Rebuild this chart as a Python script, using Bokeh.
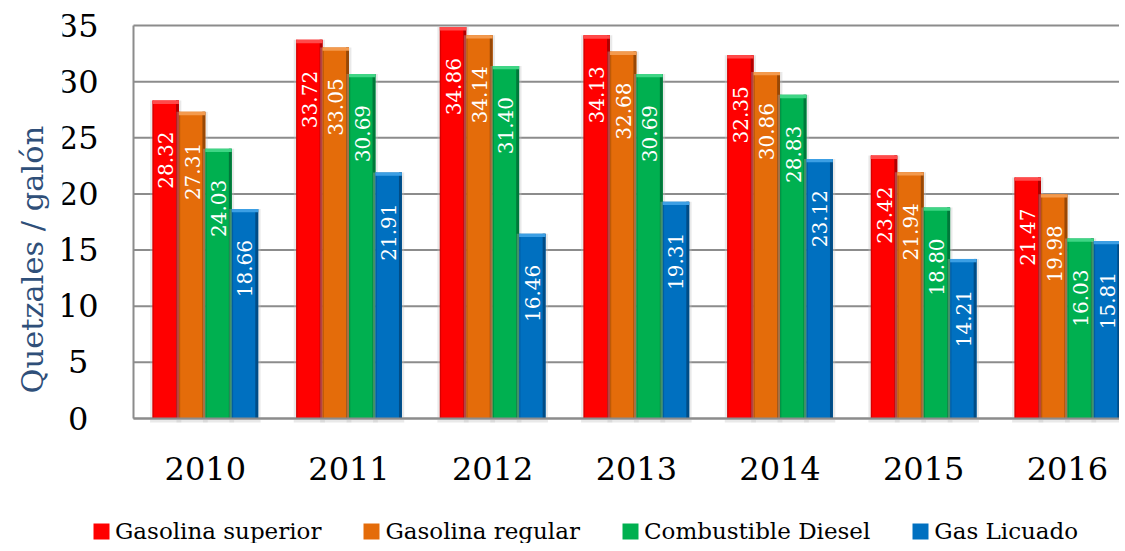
import numpy as np
from bokeh.plotting import figure
from bokeh.models import (ColumnDataSource, Range1d, FixedTicker, LabelSet,
                          Legend, LegendItem, Title)
from bokeh.core.properties import value
from bokeh.transform import dodge
from bokeh.embed import file_html
from bokeh.resources import INLINE

# ---------------- data ----------------
years = ["2010", "2011", "2012", "2013", "2014", "2015", "2016"]
gasolina_superior = [28.32, 33.72, 34.86, 34.13, 32.35, 23.42, 21.47]
gasolina_regular = [27.31, 33.05, 34.14, 32.68, 30.86, 21.94, 19.98]
combustible_diesel = [24.03, 30.69, 31.40, 30.69, 28.83, 18.80, 16.03]
gas_licuado = [18.66, 21.91, 16.46, 19.31, 23.12, 14.21, 15.81]
series_names = ["Gasolina superior", "Gasolina regular", "Combustible Diesel", "Gas Licuado"]
y_ticks = [0, 5, 10, 15, 20, 25, 30, 35]

series = [gasolina_superior, gasolina_regular, combustible_diesel, gas_licuado]

# ---------------- style / layout ----------------
main_colors = ["#FF0000", "#E46C0A", "#00B050", "#0070C0"]
dark_colors = ["#B00000", "#984806", "#00783A", "#004C86"]
cap_colors = ["#FF4A4A", "#F39A4E", "#3FD585", "#3C9FE4"]
FONT = "DejaVu Serif"
GRID = "#8C8C8C"
BAR_W = 0.184

W, H = 1117, 543
BORDER_L = 60                        # canvas left border (room for y title)
TOP_PX = 25                          # where the top of the value axis sits
AXIS_X_PX, AXIS_Y_PX = 131, 418      # where the value/category axes sit
PX_PER_CAT = 143.67
Y_MAX = y_ticks[-1]
px_per_unit = (AXIS_Y_PX - TOP_PX) / Y_MAX
x_lo = -0.5 - (AXIS_X_PX - BORDER_L) / PX_PER_CAT
x_hi = -0.5 + (W - AXIS_X_PX) / PX_PER_CAT
y_lo = -(H - AXIS_Y_PX) / px_per_unit
y_hi = Y_MAX + TOP_PX / px_per_unit

p = figure(frame_width=W - BORDER_L, frame_height=H,
           x_range=Range1d(x_lo, x_hi), y_range=Range1d(y_lo, y_hi),
           output_backend="svg", toolbar_location=None,
           min_border_left=BORDER_L, min_border_top=0,
           min_border_right=0, min_border_bottom=0)

p.outline_line_color = None
p.background_fill_color = "white"
p.border_fill_color = "white"

# axes placed inside the frame
p.xaxis.ticker = FixedTicker(ticks=list(range(len(years))))
p.xaxis.major_label_overrides = {i: y for i, y in enumerate(years)}
p.xaxis.fixed_location = 0
p.xaxis.bounds = (-0.5, x_hi)
p.yaxis.ticker = FixedTicker(ticks=y_ticks)
p.yaxis.major_label_overrides = {t: (str(t) if t >= 10 else str(t) + "\u2008")
                                 for t in y_ticks}
p.yaxis.fixed_location = -0.5
p.yaxis.bounds = (0, Y_MAX)
for ax in (p.xaxis, p.yaxis):
    ax.axis_line_color = GRID
    ax.axis_line_width = 2
    ax.major_tick_line_color = None
    ax.minor_tick_line_color = None
    ax.major_label_text_font = FONT
    ax.major_label_text_font_size = "32px"
    ax.major_label_text_color = "black"
p.yaxis.major_label_standoff = 29
p.xaxis.major_label_standoff = 32

# y axis title, shifted down like the reference
ytitle = Title(text="Quetzales / galón", align="left",
               offset=(H - AXIS_Y_PX) + 25,
               text_font=FONT, text_font_size="30.5px", text_font_style="normal",
               text_color="#2F4F79", standoff=25)
p.add_layout(ytitle, "left")

# horizontal grid lines only over the plotting area
p.xgrid.grid_line_color = None
p.ygrid.grid_line_color = None
p.segment(x0=-0.5, x1=x_hi, y0=y_ticks, y1=y_ticks, line_color=GRID,
          line_width=2)

legend_items = []
for k, (name, vals) in enumerate(zip(series_names, series)):
    off = (k - 1.5) * BAR_W
    vals = np.array(vals, dtype=float)
    src = ColumnDataSource(dict(
        x=np.arange(len(years)),
        top=vals,
        cap_bottom=vals - 0.3,
        label=[f"{v:.2f}" for v in vals],
    ))
    # soft shadow
    p.vbar(x=dodge("x", off, range=p.x_range), top="top", width=BAR_W * 1.18,
           bottom=-0.35, source=src, fill_color="#BFBFBF", fill_alpha=0.35,
           line_color=None)
    r = p.vbar(x=dodge("x", off, range=p.x_range), top="top", width=BAR_W,
               source=src, fill_color=main_colors[k], line_color=None)
    # darker right edge
    p.vbar(x=dodge("x", off + BAR_W * 0.445, range=p.x_range), top="top",
           width=BAR_W * 0.11, source=src, fill_color=dark_colors[k],
           line_color=None)
    # darker left edge (thin)
    p.vbar(x=dodge("x", off - BAR_W * 0.475, range=p.x_range), top="top",
           width=BAR_W * 0.05, source=src, fill_color=dark_colors[k],
           fill_alpha=0.5, line_color=None)
    # lighter top cap
    p.vbar(x=dodge("x", off, range=p.x_range), top="top", bottom="cap_bottom",
           width=BAR_W, source=src, fill_color=cap_colors[k], line_color=None)
    labels = LabelSet(x=dodge("x", off, range=p.x_range), y="top", text="label",
                      source=src, angle=np.pi / 2, y_offset=-31,
                      text_align="right", text_baseline="middle",
                      text_color="white", text_font=value(FONT),
                      text_font_size="20px")
    p.add_layout(labels)
    legend_items.append(LegendItem(label=name, renderers=[r]))

legend = Legend(items=legend_items, orientation="horizontal",
                location=(89 - BORDER_L, -1),
                label_text_font=FONT, label_text_font_size="23px",
                label_text_color="black", glyph_width=20, glyph_height=20,
                label_standoff=4, spacing=40, padding=0, margin=0,
                border_line_color=None, background_fill_alpha=0)
p.add_layout(legend, "center")

open("out.html", "w").write(file_html(p, INLINE))
